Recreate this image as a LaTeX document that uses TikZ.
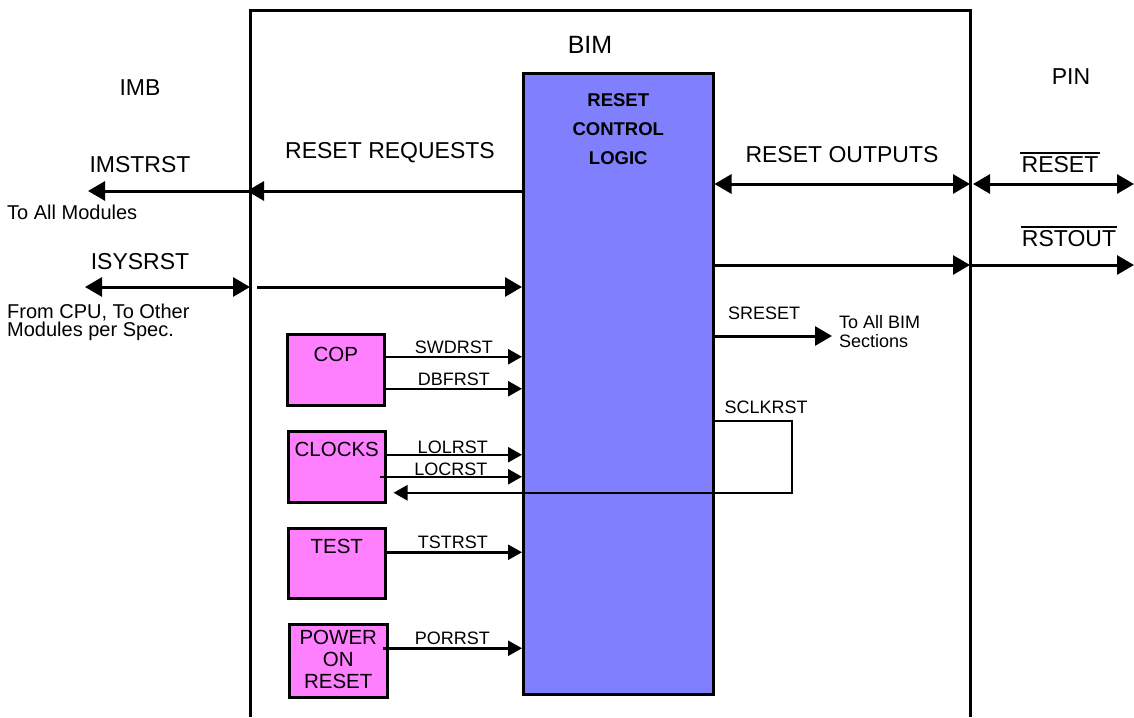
\documentclass[tikz,border=0pt]{standalone}
\usepackage{fontspec}
\setmainfont{Liberation Sans}
\usetikzlibrary{arrows.meta, positioning}
\definecolor{logicblue}{HTML}{8080FF}
\definecolor{unitpink}{HTML}{FF80FF}
\tikzstyle{bus}=[line width=3pt, -{Triangle[length=17pt,width=19pt]}]
\tikzstyle{dbus}=[line width=3pt, {Triangle[length=17pt,width=19pt]}-{Triangle[length=17pt,width=19pt]}]
\tikzstyle{wire}=[line width=2.5pt, -{Triangle[length=14pt,width=15pt]}]
\tikzstyle{unit}=[draw, line width=2.5pt, fill=unitpink, minimum width=97pt, minimum height=71pt, anchor=north west, inner sep=0pt]
\tikzstyle{big}=[font=\fontsize{23}{27}\selectfont, inner sep=1pt]
\tikzstyle{mid}=[font=\fontsize{20}{22}\selectfont, inner sep=1pt, align=left]
\tikzstyle{sml}=[font=\fontsize{18}{20}\selectfont, inner sep=1pt, align=center]
\tikzstyle{unittxt}=[font=\fontsize{20.5}{22}\selectfont, inner sep=1pt, align=center]
\tikzstyle{bar}=[line width=1.8pt]

\begin{document}
\begin{tikzpicture}[x=1pt, y=-1pt]
  \useasboundingbox (0,0) rectangle (1134,717);
  % BIM frame, open at the bottom
  \draw[line width=3pt] (250,717) -- (250,11) -- (970,11) -- (970,717);
  \node[big, font=\fontsize{25}{27}\selectfont] (bim) at (590,45) {BIM};
  \node[big] (imb) at (140,88) {IMB};
  \node[big] (pin) at (1071,77) {PIN};

  % reset control logic
  \node[draw, line width=2.5pt, fill=logicblue, minimum width=190pt, minimum height=621pt,
        anchor=north west, inner sep=0pt] (rcl) at (522,72) {};
  \node[sml, font=\fontsize{18.5}{29}\selectfont\bfseries, below=20pt of rcl.north] (rcltxt)
        {RESET\\CONTROL\\LOGIC};

  % request sources
  \node[unit] (cop) at (286,333) {};
  \node[unittxt, below=13pt of cop.north] (coptxt) {COP};
  \node[unit] (clocks) at (287,430) {};
  \node[unittxt, below=11pt of clocks.north] (clktxt) {CLOCKS};
  \node[unit, minimum height=70pt] (test) at (287,527) {};
  \node[unittxt, below=11pt of test.north] (testtxt) {TEST};
  \node[unit, minimum width=98pt, minimum height=73pt] (por) at (288,623) {};
  \node[unittxt, below=6pt of por.north] (portxt) {POWER\\ON\\RESET};

  % coordinates of the pin and module ends
  \coordinate (imsL) at (88,191);
  \coordinate (imsF) at (250,191);
  \coordinate (sysL) at (85,287);
  \coordinate (sysF) at (250,287);
  \coordinate (rstF) at (970,184);
  \coordinate (rstR) at (1134,184);
  \coordinate (outF) at (970,265);
  \coordinate (outR) at (1134,265);
  \coordinate (srst) at (832,336);
  \coordinate (sclk) at (792,421);

  % IMB side
  \draw[bus, shorten >=-3pt] (rcl.west |- imsF) -- (imsF);
  \draw[bus] (imsF) -- (imsL);
  \draw[dbus] (sysL) -- (sysF);
  \draw[bus, shorten <=7pt] (sysF) -- (rcl.west |- sysF);
  \node[big] (imstxt) at (140,165) {IMSTRST};
  \node[mid, anchor=west] (imsnote) at (6,212) {To All Modules};
  \node[big] (systxt) at (140,262) {ISYSRST};
  \node[mid, anchor=north west, font=\fontsize{20}{17}\selectfont] (sysnote) at (6,303)
        {From CPU, To Other\\Modules per Spec.};
  \node[big] (reqtxt) at (390,153) {RESET REQUESTS};

  % pin side
  \draw[dbus] (rcl.east |- rstF) -- (rstF);
  \draw[dbus, shorten <=3pt] (rstF) -- (rstR);
  \draw[bus] (rcl.east |- outF) -- (outF);
  \draw[bus] (outF) -- (outR);
  \node[big] (outtxt) at (842,155) {RESET OUTPUTS};
  \node[big] (rsttxt) at (1060,165) {RESET};
  \draw[bar] ([yshift=3pt]rsttxt.north west) -- ([yshift=3pt]rsttxt.north east);
  \node[big] (rsotxt) at (1069,239) {RSTOUT};
  \draw[bar] ([yshift=3pt]rsotxt.north west) -- ([yshift=3pt]rsotxt.north east);

  % internal resets
  \draw[bus] (rcl.east |- srst) -- (srst);
  \node[sml] (srsttxt) at (764,313) {SRESET};
  \node[sml, anchor=west, align=left, font=\fontsize{18}{19}\selectfont] (srstnote) at (838,332)
        {To All BIM\\Sections};
  \draw[wire] (rcl.east |- sclk) -- (sclk) |- ([xshift=7pt, yshift=-26pt]clocks.east);
  \node[sml] (sclktxt) at (766,407) {SCLKRST};

  % requests into the logic
  \draw[wire] ([yshift=13pt]cop.east) -- ([yshift=13pt]cop.east -| rcl.west)
        node[sml, midway, above=1pt] {SWDRST};
  \draw[wire] ([yshift=-19pt]cop.east) -- ([yshift=-19pt]cop.east -| rcl.west)
        node[sml, midway, above=1pt] {DBFRST};
  \draw[wire] ([xshift=-3pt, yshift=12pt]clocks.east) -- ([yshift=12pt]clocks.east -| rcl.west)
        node[sml, midway, above=-1pt] {LOLRST};
  \draw[wire] ([xshift=-7pt, yshift=-10pt]clocks.east) -- ([yshift=-10pt]clocks.east -| rcl.west)
        node[sml, midway, above=-1pt] {LOCRST};
  \draw[wire] ([xshift=-3pt, yshift=11pt]test.east) -- ([yshift=11pt]test.east -| rcl.west)
        node[sml, midway, above=1pt] {TSTRST};
  \draw[wire] ([xshift=-6pt, yshift=12.5pt]por.east) -- ([yshift=12.5pt]por.east -| rcl.west)
        node[sml, midway, above=1pt] {PORRST};
\end{tikzpicture}
\end{document}
